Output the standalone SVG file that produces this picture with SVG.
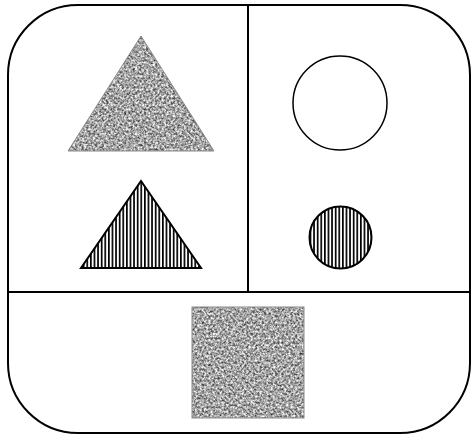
<svg xmlns="http://www.w3.org/2000/svg" width="474" height="437" viewBox="0 0 474 437">
  <defs>
    <filter id="granite" x="0" y="0" width="1" height="1" color-interpolation-filters="sRGB">
      <feTurbulence type="fractalNoise" baseFrequency="0.45" numOctaves="3" seed="7" result="n"/>
      <feColorMatrix in="n" type="matrix" values="1.25 0 0 0 0.02  1.25 0 0 0 0.02  1.25 0 0 0 0.02  0 0 0 0 1" result="g"/>
      <feComposite in="g" in2="SourceAlpha" operator="in"/>
    </filter>
    <pattern id="stripes" patternUnits="userSpaceOnUse" width="3.6" height="10">
      <rect x="0" y="0" width="3.6" height="10" fill="#fff"/>
      <rect x="0" y="0" width="1.7" height="10" fill="#000"/>
    </pattern>
  </defs>
  <style>
    .frame { fill: #fff; stroke: #000; stroke-width: 2; }
    .div { stroke: #000; stroke-width: 2; fill: none; }
    .granite-fill { fill: #000; filter: url(#granite); }
    .granite-edge { fill: none; stroke: #8a8a8a; stroke-width: 1; }
    .striped { fill: url(#stripes); stroke: #000; stroke-width: 2; }
    .plain { fill: #fff; stroke: #000; stroke-width: 1.5; }
  </style>

  <g id="frame">
    <rect class="frame" x="8" y="5" width="462" height="428" rx="70" ry="70"/>
  </g>

  <g id="dividers">
    <line class="div" x1="248" y1="5" x2="248" y2="292"/>
    <line class="div" x1="8" y1="292" x2="470" y2="292"/>
  </g>

  <g id="granite-triangle">
    <polygon class="granite-fill" points="141,36 214,151 68,151"/>
    <polygon class="granite-edge" points="141,36 214,151 68,151"/>
  </g>

  <g id="striped-triangle">
    <polygon class="striped" points="141,181 201,268 81,268"/>
  </g>

  <g id="white-circle">
    <circle class="plain" cx="340" cy="103" r="47"/>
  </g>

  <g id="striped-circle">
    <circle class="striped" cx="340.5" cy="237.5" r="31"/>
  </g>

  <g id="granite-square">
    <rect class="granite-fill" x="192" y="307" width="112" height="111"/>
    <rect class="granite-edge" x="192" y="307" width="112" height="111"/>
  </g>
</svg>
